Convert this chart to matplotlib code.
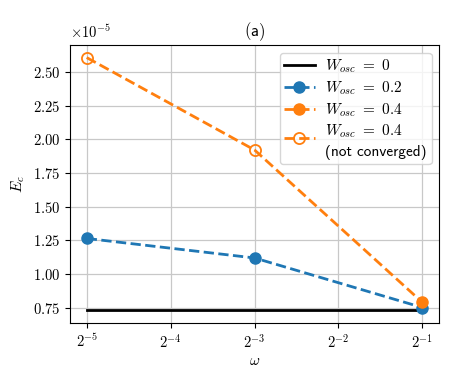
import matplotlib
matplotlib.use("Agg")
import matplotlib.pyplot as plt
from matplotlib.lines import Line2D
from matplotlib.legend_handler import HandlerLine2D
from matplotlib.ticker import FuncFormatter, FixedLocator
import numpy as np

plt.rcParams['mathtext.fontset'] = 'cm'
plt.rcParams['font.size'] = 10.5

omega = [2**-5, 2**-3, 2**-1]
E_w0 = [0.733e-5, 0.733e-5, 0.733e-5]
E_w02 = [1.265e-5, 1.120e-5, 0.752e-5]
E_w04 = [2.608e-5, 1.922e-5, 0.790e-5]
conv_w04 = [False, False, True]
x_ticks = [2**-5, 2**-4, 2**-3, 2**-2, 2**-1]
y_ticks = [0.75e-5, 1.00e-5, 1.25e-5, 1.50e-5, 1.75e-5, 2.00e-5, 2.25e-5, 2.50e-5]

blue = '#1f77b4'
orange = '#ff7f0e'


class ShiftedHandler(HandlerLine2D):
    def __init__(self, dy, **kw):
        super().__init__(**kw)
        self.dy = dy

    def create_artists(self, legend, orig_handle, xdescent, ydescent, width, height, fontsize, trans):
        return super().create_artists(legend, orig_handle, xdescent, ydescent + self.dy,
                                      width, height, fontsize, trans)


fig = plt.figure(figsize=(4.57, 3.81), dpi=100)
ax = fig.add_axes([0.153, 0.153, 0.808, 0.729])

ax.plot(omega, E_w0, color='black', lw=2, zorder=3)
ax.plot(omega, E_w02, color=blue, ls='--', lw=2, marker='o', ms=8, zorder=3)
ax.plot(omega, E_w04, color=orange, ls='--', lw=2, zorder=3)
xc = [o for o, c in zip(omega, conv_w04) if c]
yc = [e for e, c in zip(E_w04, conv_w04) if c]
xn = [o for o, c in zip(omega, conv_w04) if not c]
yn = [e for e, c in zip(E_w04, conv_w04) if not c]
ax.plot(xc, yc, ls='none', marker='o', ms=8, color=orange, zorder=4)
ax.plot(xn, yn, ls='none', marker='o', ms=8, mfc='none', mec=orange, mew=1.3, zorder=4)

ax.set_xscale('log', base=2)
ax.xaxis.set_major_locator(FixedLocator(x_ticks))
ax.xaxis.set_minor_locator(FixedLocator([]))
ax.xaxis.set_major_formatter(FuncFormatter(lambda v, p: r'$2^{%d}$' % int(round(np.log2(v)))))
ax.yaxis.set_major_locator(FixedLocator(y_ticks))
ax.yaxis.set_major_formatter(FuncFormatter(lambda v, p: r'$%.2f$' % (v / 1e-5)))
ax.tick_params(labelsize=10.5)
ax.grid(True, color='#c8c8c8', lw=0.9)
ax.set_axisbelow(True)

ax.text(0.0, 1.015, r'$\times 10^{-5}$', transform=ax.transAxes, ha='left', va='bottom', fontsize=10.5)
ax.set_xlabel(r'$\omega$', fontsize=11, labelpad=2)
ax.set_ylabel(r'$E_c$', fontsize=11)
ax.set_title(r'$\mathsf{(a)}$', fontsize=12, pad=6)

h_w0 = Line2D([], [], color='black', lw=2)
h_w02 = Line2D([], [], color=blue, ls='--', lw=2, marker='o', ms=8)
h_w04 = Line2D([], [], color=orange, ls='--', lw=2, marker='o', ms=8)
h_nc = Line2D([], [], color=orange, ls='--', lw=2, marker='o', ms=8, mfc='none', mew=1.3)
h_blank = Line2D([], [], color='none', lw=0)
handles = [h_w0, h_w02, h_w04, h_nc, h_blank]
labels = [r'$W_{osc}\ =\ 0$', r'$W_{osc}\ =\ 0.2$', r'$W_{osc}\ =\ 0.4$',
          r'$W_{osc}\ =\ 0.4$', '(not converged)']
fs = 11
leg = ax.legend(handles, labels, loc='upper right', fontsize=fs, handletextpad=0.7,
                labelspacing=0.28, borderpad=0.3,
                handler_map={h_nc: ShiftedHandler(dy=fs * 1.0)})
leg.get_texts()[4].set_fontfamily('cmss10')

fig.savefig('out.png', dpi=100)
